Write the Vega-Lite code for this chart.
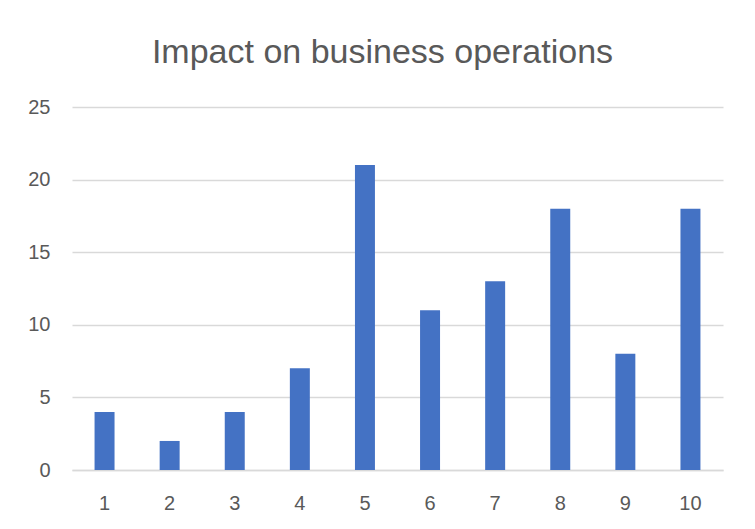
{
  "$schema": "https://vega.github.io/schema/vega-lite/v6.json",
  "width": 651,
  "height": 363,
  "autosize": {"type": "none"},
  "padding": {"left": 72, "top": 107, "right": 32, "bottom": 59},
  "background": "white",
  "title": {
    "text": "Impact on business operations",
    "font": "Liberation Sans",
    "fontSize": 34,
    "fontWeight": "normal",
    "color": "#595959",
    "anchor": "middle",
    "baseline": "alphabetic",
    "offset": 0,
    "dx": -15
  },
  "data": {
    "values": [
      {"category": "1", "value": 4},
      {"category": "2", "value": 2},
      {"category": "3", "value": 4},
      {"category": "4", "value": 7},
      {"category": "5", "value": 21},
      {"category": "6", "value": 11},
      {"category": "7", "value": 13},
      {"category": "8", "value": 18},
      {"category": "9", "value": 8},
      {"category": "10", "value": 18}
    ]
  },
  "mark": {"type": "bar", "color": "#4472C4"},
  "encoding": {
    "x": {
      "field": "category",
      "type": "ordinal",
      "sort": null,
      "scale": {"paddingInner": 0.693, "paddingOuter": 0.3465},
      "axis": {
        "title": null,
        "labelAngle": 0,
        "labelFont": "Liberation Sans",
        "labelFontSize": 20,
        "labelColor": "#595959",
        "labelPadding": 23,
        "ticks": false,
        "domainColor": "#d9d9d9",
        "domainWidth": 1.5
      }
    },
    "y": {
      "field": "value",
      "type": "quantitative",
      "scale": {"domain": [0, 25]},
      "axis": {
        "title": null,
        "values": [0, 5, 10, 15, 20, 25],
        "labelFont": "Liberation Sans",
        "labelFontSize": 20,
        "labelColor": "#595959",
        "labelPadding": 22,
        "ticks": false,
        "domain": false,
        "gridColor": "#d9d9d9",
        "gridWidth": 1.5
      }
    }
  },
  "config": {"view": {"stroke": null}}
}
